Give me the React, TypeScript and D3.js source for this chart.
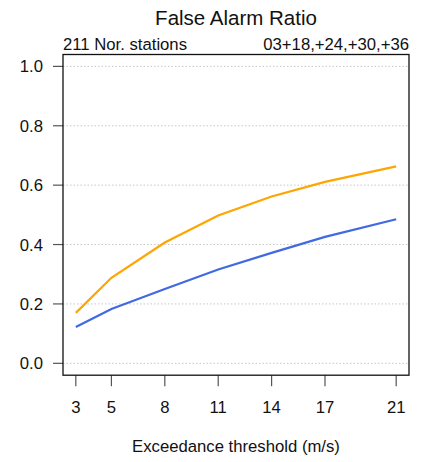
import React from "react";
import * as d3 from "d3";

const thresholds = [3, 5, 8, 11, 14, 17, 21];
const seriesOrange = [0.17, 0.288, 0.407, 0.498, 0.562, 0.611, 0.663];
const seriesBlue = [0.122, 0.183, 0.25, 0.316, 0.372, 0.426, 0.485];
const yTicks = [0, 0.2, 0.4, 0.6, 0.8, 1.0];
const xTicks = [3, 5, 8, 11, 14, 17, 21];
const title = "False Alarm Ratio";
const leftSub = "211 Nor. stations";
const rightSub = "03+18,+24,+30,+36";
const xLabel = "Exceedance threshold (m/s)";

export default function App() {
  const W = 428, H = 462;
  const L = 63, R = 409, T = 54.5, B = 375.2;
  const x = d3.scaleLinear().domain([2.28, 21.72]).range([L, R]);
  const y = d3.scaleLinear().domain([-0.04, 1.04]).range([B, T]);
  const line = d3.line<number>().x((_, i) => x(thresholds[i])).y((d) => y(d));
  const font = "'Liberation Sans', Arial, Helvetica, sans-serif";
  return (
    <svg width={W} height={H} style={{ position: "absolute", left: 0, top: 0, background: "#fff" }} fontFamily={font}>
      <rect x={0} y={0} width={W} height={H} fill="#fff" />
      <text x={(L + R) / 2} y={25} textAnchor="middle" fontSize={20.5} fill="#111">{title}</text>
      <text x={L} y={49.5} fontSize={16.7} fill="#111">{leftSub}</text>
      <text x={R} y={49.5} textAnchor="end" fontSize={16.7} fill="#111">{rightSub}</text>
      {yTicks.map((t) => (
        <g key={"y" + t}>
          <line x1={L} x2={R} y1={y(t)} y2={y(t)} stroke="#c8c8c8" strokeWidth={1} strokeDasharray="1.5,2" />
          <line x1={L - 10} x2={L} y1={y(t)} y2={y(t)} stroke="#555" strokeWidth={1.2} />
          <text x={L - 20} y={y(t) + 6} textAnchor="end" fontSize={16.7} fill="#111">{t.toFixed(1)}</text>
        </g>
      ))}
      {xTicks.map((t) => (
        <g key={"x" + t}>
          <line x1={x(t)} x2={x(t)} y1={B} y2={B + 11} stroke="#555" strokeWidth={1.2} />
          <text x={x(t)} y={412.5} textAnchor="middle" fontSize={16.7} fill="#111">{t}</text>
        </g>
      ))}
      <path d={line(seriesOrange) || ""} fill="none" stroke="#FFA500" strokeWidth={2.2} />
      <path d={line(seriesBlue) || ""} fill="none" stroke="#4169E1" strokeWidth={2.2} />
      <rect x={L} y={T} width={R - L} height={B - T} fill="none" stroke="#111" strokeWidth={1.3} />
      <text x={(L + R) / 2} y={452} textAnchor="middle" fontSize={16.7} fill="#111">{xLabel}</text>
    </svg>
  );
}
